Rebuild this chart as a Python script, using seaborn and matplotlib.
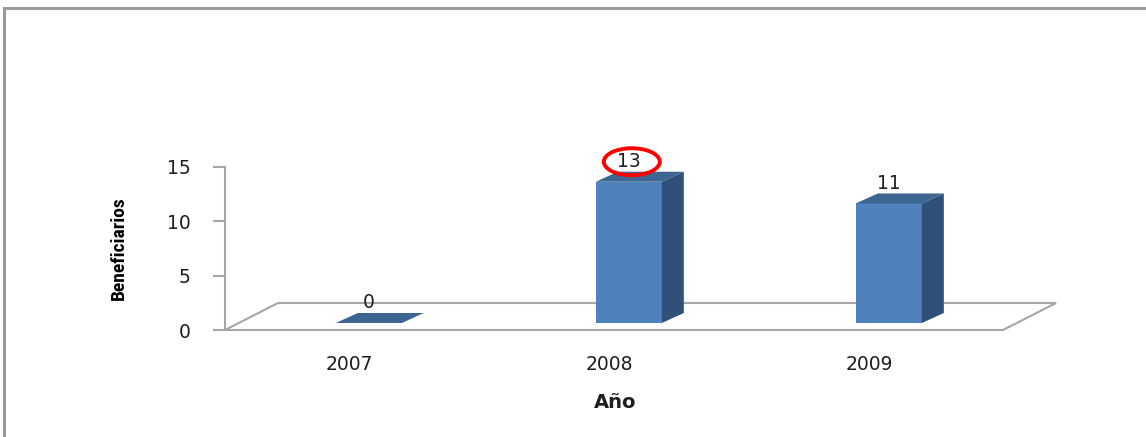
"""Beneficiarios por año: Excel-style 3D column chart recreated with seaborn."""
import matplotlib
matplotlib.use('Agg')
import matplotlib.pyplot as plt
import pandas as pd
import seaborn as sns
from matplotlib.patches import Polygon, Ellipse, Rectangle
from matplotlib.transforms import offset_copy, IdentityTransform

# data
years = ['2007', '2008', '2009']
beneficiarios = [0, 13, 11]
y_ticks = [0, 5, 10, 15]
highlight_year = '2008'

W, H = 1146, 437
FRONT = '#4F81BD'
TOP = '#3D6592'
SIDE = '#2F5179'
GRID = '#A6A6A6'
TXT = '#1E1E1E'
BAR_SHIFT = (19, 7)     # px, bar front face relative to the axis plane
BAR_DEPTH = (22, 10)    # px, depth of each column
FLOOR_DEPTH = (53, 27)  # px, depth of the floor


def main():
    """Draw the chart and save it as out.png."""
    sns.set_theme(style='white')
    plt.rcParams['font.family'] = ['DejaVu Sans']

    fig = plt.figure(figsize=(W / 100, H / 100), dpi=100)
    ax = fig.add_axes([225 / W, (H - 330) / H, 780 / W, 163 / H])

    df = pd.DataFrame({'Año': years, 'Beneficiarios': beneficiarios})
    sns.barplot(data=df, x='Año', y='Beneficiarios', color=FRONT,
                saturation=1, width=0.254, ax=ax, zorder=3)
    ax.set_xlim(-0.48, 2.52)
    ax.set_ylim(0, 15)
    ax.set_yticks(y_ticks)

    # floor of the 3D plot
    fl = ax.transAxes.transform([(0, 0), (778 / 780, 0)])
    dx, dy = FLOOR_DEPTH
    floor = [fl[0], fl[1], (fl[1][0] + dx, fl[1][1] + dy),
             (fl[0][0] + dx, fl[0][1] + dy)]
    ax.add_patch(Polygon(floor, closed=True, fc='white', ec=GRID, lw=1.5,
                         transform=IdentityTransform(), clip_on=False,
                         zorder=1))

    # shift the column front faces and add top / side faces
    shifted = offset_copy(ax.transData, fig=fig, x=BAR_SHIFT[0],
                          y=BAR_SHIFT[1], units='dots')
    bx, by = BAR_DEPTH
    for bar in list(ax.patches):
        if not isinstance(bar, Rectangle):
            continue
        bar.set_transform(shifted)
        bar.set_edgecolor('none')
        bar.set_clip_on(False)
        x0 = bar.get_x()
        x1 = x0 + bar.get_width()
        h = bar.get_height()
        (ax0, ay0), (ax1, ay1) = shifted.transform([(x0, 0), (x1, h)])
        top = [(ax0, ay1), (ax1, ay1), (ax1 + bx, ay1 + by),
               (ax0 + bx, ay1 + by)]
        side = [(ax1, ay0), (ax1, ay1), (ax1 + bx, ay1 + by),
                (ax1 + bx, ay0 + by)]
        for pts, col in ((side, SIDE), (top, TOP)):
            ax.add_patch(Polygon(pts, closed=True, fc=col, ec='none',
                                 transform=IdentityTransform(),
                                 clip_on=False, zorder=3))

    # data labels
    lab_tr = offset_copy(ax.transData, fig=fig, x=BAR_SHIFT[0],
                         y=BAR_SHIFT[1] + 20, units='dots')
    for i, (yr, v) in enumerate(zip(years, beneficiarios)):
        ax.text(i, v, str(v), transform=lab_tr, ha='center', va='center',
                fontsize=13.5, color=TXT, zorder=5, clip_on=False)
        if yr == highlight_year:
            cx, cy = lab_tr.transform((i, v))
            ax.add_patch(Ellipse((cx + 3, cy), 56, 27, fc='none', ec='red',
                                 lw=2.8, transform=IdentityTransform(),
                                 clip_on=False, zorder=6))

    ax.set_xlim(-0.48, 2.52)
    ax.set_ylim(0, 15)

    # axes styling
    for s in ('top', 'right', 'bottom'):
        ax.spines[s].set_visible(False)
    ax.spines['left'].set_color(GRID)
    ax.spines['left'].set_linewidth(1.5)
    ax.spines['left'].set_zorder(2)
    ax.tick_params(axis='y', direction='out', length=9, width=1.5,
                   color=GRID, pad=16, labelsize=13.5, labelcolor=TXT,
                   left=True)
    ax.tick_params(axis='x', length=0, pad=18, labelsize=13.5,
                   labelcolor=TXT)
    ax.set_xlabel('Año', fontsize=14, fontweight='bold', color=TXT,
                  labelpad=14)
    ax.set_ylabel('Beneficiarios', fontsize=14, fontweight='bold',
                  color='black', labelpad=28,
                  family=['Roboto Condensed', 'Roboto', 'DejaVu Sans'])
    ax.patch.set_alpha(0)

    # chart border
    fig.patches.append(Rectangle((4 / W, -0.1), 1.2, (H - 8) / H + 0.1,
                                 transform=fig.transFigure, fill=False,
                                 ec='#9A9A9A', lw=2.2))
    fig.savefig('out.png', dpi=100)


if __name__ == '__main__':
    main()
